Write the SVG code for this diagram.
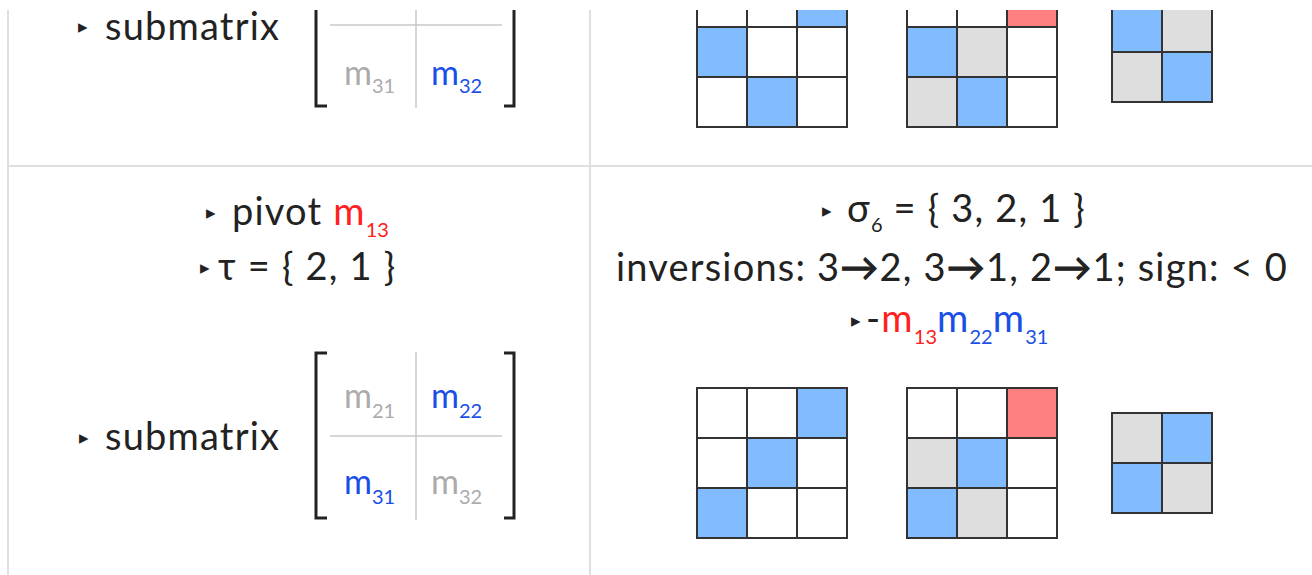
<svg xmlns="http://www.w3.org/2000/svg" width="1312" height="575" viewBox="0 0 1312 575">
<style>
.t{font-family:Lato,"Noto Sans",sans-serif;font-size:38px;letter-spacing:1.2px;fill:#222}
.mm{font-size:34px;letter-spacing:0}
.s{font-size:20px;letter-spacing:0}
.a{stroke:#222;stroke-width:1}
.b{font-family:"DejaVu Sans",sans-serif;font-size:19px;fill:#222}
.r{fill:#ff2020}
.bl{fill:#1a4fe6}
.g{fill:#ababab}
.div{stroke:#e0e0e0;stroke-width:2;fill:none}
.sep{stroke:#c8c8c8;stroke-width:1.5;fill:none}
.br{stroke:#222;stroke-width:3;fill:none}
.c{stroke:#333;stroke-width:2}
.w{fill:#fff}.u{fill:#80bcff}.p{fill:#ff8080}.q{fill:#dedede}
</style>
<defs><clipPath id="clip"><rect x="0" y="10" width="1312" height="565"/></clipPath></defs>
<rect width="1312" height="575" fill="#fff"/>
<g clip-path="url(#clip)">
<g id="dividers">
<line class="div" x1="8" y1="0" x2="8" y2="575"/>
<line class="div" x1="590" y1="0" x2="590" y2="575"/>
<line class="div" x1="8" y1="166" x2="1312" y2="166"/>
</g>
<g id="top-left">
<text class="b" x="78" y="33">▸</text>
<text class="t" x="105" y="40">submatrix</text>
<path class="br" d="M327,106 H316 V0"/>
<path class="br" d="M504,106 H514 V0"/>
<line class="sep" x1="330" y1="25" x2="502" y2="25"/>
<line class="sep" x1="416" y1="0" x2="416" y2="108"/>
<text class="t mm g" x="344" y="85">m<tspan class="s" dy="8">31</tspan></text>
<text class="t mm bl" x="431" y="85">m<tspan class="s" dy="8">32</tspan></text>
</g>
<g id="top-grid1">
<rect class="c w" x="697" y="-23" width="50" height="50"/><rect class="c w" x="747" y="-23" width="50" height="50"/><rect class="c u" x="797" y="-23" width="50" height="50"/>
<rect class="c u" x="697" y="27" width="50" height="50"/><rect class="c w" x="747" y="27" width="50" height="50"/><rect class="c w" x="797" y="27" width="50" height="50"/>
<rect class="c w" x="697" y="77" width="50" height="50"/><rect class="c u" x="747" y="77" width="50" height="50"/><rect class="c w" x="797" y="77" width="50" height="50"/>
</g>
<g id="top-grid2">
<rect class="c w" x="907" y="-23" width="50" height="50"/><rect class="c w" x="957" y="-23" width="50" height="50"/><rect class="c p" x="1007" y="-23" width="50" height="50"/>
<rect class="c u" x="907" y="27" width="50" height="50"/><rect class="c q" x="957" y="27" width="50" height="50"/><rect class="c w" x="1007" y="27" width="50" height="50"/>
<rect class="c q" x="907" y="77" width="50" height="50"/><rect class="c u" x="957" y="77" width="50" height="50"/><rect class="c w" x="1007" y="77" width="50" height="50"/>
</g>
<g id="top-grid3">
<rect class="c u" x="1112" y="2" width="50" height="50"/><rect class="c q" x="1162" y="2" width="50" height="50"/>
<rect class="c q" x="1112" y="52" width="50" height="50"/><rect class="c u" x="1162" y="52" width="50" height="50"/>
</g>
<g id="bottom-left-text">
<text class="b" x="206" y="219">▸</text>
<text class="t" x="232" y="225">pivot <tspan class="r">m</tspan><tspan class="r s" dy="12">13</tspan></text>
<text class="b" x="200" y="274">▸</text>
<text class="t" x="218" y="280">τ = { 2, 1 }</text>
</g>
<g id="bottom-left-matrix">
<text class="b" x="79" y="444">▸</text>
<text class="t" x="105" y="450">submatrix</text>
<path class="br" d="M327,353 H316 V518 H327"/>
<path class="br" d="M504,353 H514 V518 H504"/>
<line class="sep" x1="330" y1="436" x2="502" y2="436"/>
<line class="sep" x1="416" y1="352" x2="416" y2="520"/>
<text class="t mm g" x="344" y="408">m<tspan class="s" dy="10">21</tspan></text>
<text class="t mm bl" x="431" y="408">m<tspan class="s" dy="10">22</tspan></text>
<text class="t mm bl" x="344" y="494">m<tspan class="s" dy="10">31</tspan></text>
<text class="t mm g" x="431" y="494">m<tspan class="s" dy="10">32</tspan></text>
</g>
<g id="bottom-right-text">
<text class="b" x="822" y="217">▸</text>
<text class="t" x="847" y="222">σ<tspan class="s" dy="10">6</tspan><tspan dy="-10"> = { 3, 2, 1 }</tspan></text>
<text class="t" x="952" y="281" text-anchor="middle">inversions: 3<tspan class="a">→</tspan>2, 3<tspan class="a">→</tspan>1, 2<tspan class="a">→</tspan>1; sign: &lt; 0</text>
<text class="b" x="851" y="327">▸</text>
<text class="t" x="866" y="332">-<tspan class="r">m</tspan><tspan class="r s" dy="12">13</tspan><tspan class="bl" dy="-12">m</tspan><tspan class="bl s" dy="12">22</tspan><tspan class="bl" dy="-12">m</tspan><tspan class="bl s" dy="12">31</tspan></text>
</g>
<g id="bottom-grid1">
<rect class="c w" x="697" y="388" width="50" height="50"/><rect class="c w" x="747" y="388" width="50" height="50"/><rect class="c u" x="797" y="388" width="50" height="50"/>
<rect class="c w" x="697" y="438" width="50" height="50"/><rect class="c u" x="747" y="438" width="50" height="50"/><rect class="c w" x="797" y="438" width="50" height="50"/>
<rect class="c u" x="697" y="488" width="50" height="50"/><rect class="c w" x="747" y="488" width="50" height="50"/><rect class="c w" x="797" y="488" width="50" height="50"/>
</g>
<g id="bottom-grid2">
<rect class="c w" x="907" y="388" width="50" height="50"/><rect class="c w" x="957" y="388" width="50" height="50"/><rect class="c p" x="1007" y="388" width="50" height="50"/>
<rect class="c q" x="907" y="438" width="50" height="50"/><rect class="c u" x="957" y="438" width="50" height="50"/><rect class="c w" x="1007" y="438" width="50" height="50"/>
<rect class="c u" x="907" y="488" width="50" height="50"/><rect class="c q" x="957" y="488" width="50" height="50"/><rect class="c w" x="1007" y="488" width="50" height="50"/>
</g>
<g id="bottom-grid3">
<rect class="c q" x="1112" y="413" width="50" height="50"/><rect class="c u" x="1162" y="413" width="50" height="50"/>
<rect class="c u" x="1112" y="463" width="50" height="50"/><rect class="c q" x="1162" y="463" width="50" height="50"/>
</g>
</g>
</svg>
